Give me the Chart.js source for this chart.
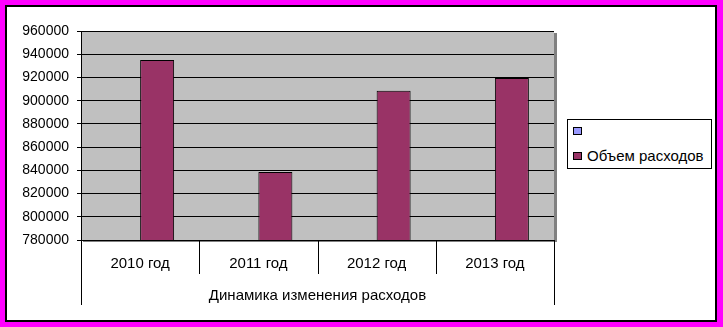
<!DOCTYPE html>
<html>
<head>
<meta charset="utf-8">
<script src="https://cdn.jsdelivr.net/npm/chart.js@4"></script>
<style>
  html, body { margin: 0; padding: 0; background: #fff; }
  #wrap { position: relative; width: 723px; height: 327px; overflow: hidden; }
  #c { position: absolute; left: 0; top: 0; }
  #legend { position: absolute; left: 567px; top: 119px; width: 145px; height: 50px;
    border: 1px solid #000; background: #fff; font-family: 'Liberation Sans', Arial, sans-serif;
    font-size: 15px; color: #000; box-sizing: border-box; }
  .item { position: absolute; left: 5px; height: 16px; line-height: 16px; }
  .sw { position: absolute; left: 0; top: 4px; width: 7px; height: 6px; border: 1px solid #000; }
  .lbl { position: absolute; left: 14px; top: 0; white-space: nowrap; }
</style>
</head>
<body>
<div id="wrap">
  <canvas id="c" width="723" height="327"></canvas>
  <div id="legend"></div>
</div>
<script>
// ---- data ----
const categories = ['2010 год', '2011 год', '2012 год', '2013 год'];
const emptySeriesLabel = ' ';
const emptySeries = [null, null, null, null];
const expensesLabel = 'Объем расходов';
const expenses = [935000, 838500, 908500, 919500];
const axisGroupTitle = 'Динамика изменения расходов';
const yMin = 780000;
const yMax = 960000;
const yStep = 20000;

const FONT = "'Liberation Sans', Arial, sans-serif";
const seriesColors = ['#9999FF', '#993366'];

// legend (HTML)
const legendEl = document.getElementById('legend');
[[emptySeriesLabel, seriesColors[0], 3], [expensesLabel, seriesColors[1], 28]].forEach(([t, col, top]) => {
  const d = document.createElement('div');
  d.className = 'item';
  d.style.top = top + 'px';
  d.innerHTML = '<span class="sw" style="background:' + col + '"></span><span class="lbl"></span>';
  d.querySelector('.lbl').textContent = t;
  legendEl.appendChild(d);
});

const framePlugin = {
  id: 'frame',
  beforeDraw(chart) {
    const ctx = chart.ctx;
    const W = chart.width, H = chart.height;
    const a = chart.chartArea;
    ctx.save();
    ctx.fillStyle = '#FF00FF';
    ctx.fillRect(0, 0, W, H);
    ctx.fillStyle = '#000';
    ctx.fillRect(5, 5, 712, 317);
    ctx.fillStyle = '#fff';
    ctx.fillRect(7, 7, 708, 313);
    // plot shadow
    ctx.fillStyle = '#808080';
    ctx.fillRect(a.left + 2, a.top + 2, a.right - a.left + 1, a.bottom - a.top);
    // plot background
    ctx.fillStyle = '#C0C0C0';
    ctx.fillRect(a.left, a.top, a.right - a.left, a.bottom - a.top);
    ctx.restore();
  },
  afterDraw(chart) {
    const ctx = chart.ctx;
    const a = chart.chartArea;
    const n = categories.length;
    const w = (a.right - a.left) / n;
    ctx.save();
    ctx.strokeStyle = '#000';
    ctx.lineWidth = 1;
    ctx.beginPath();
    for (let i = 0; i <= n; i++) {
      const x = Math.round(a.left + i * w) + 0.5;
      const yEnd = (i === 0 || i === n) ? 305 : 274;
      ctx.moveTo(x, a.bottom);
      ctx.lineTo(x, yEnd);
    }
    ctx.stroke();
    ctx.restore();
  }
};

new Chart(document.getElementById('c'), {
  type: 'bar',
  data: {
    labels: categories,
    datasets: [
      { label: emptySeriesLabel, data: emptySeries, backgroundColor: seriesColors[0],
        borderColor: '#000', borderWidth: 1, categoryPercentage: 0.575, barPercentage: 1 },
      { label: expensesLabel, data: expenses, backgroundColor: seriesColors[1],
        borderColor: '#000', borderWidth: 1, categoryPercentage: 0.575, barPercentage: 1 }
    ]
  },
  options: {
    responsive: false,
    animation: false,
    devicePixelRatio: 1,
    layout: { padding: { left: 0, right: 169, top: 31, bottom: 0 } },
    plugins: { legend: { display: false }, tooltip: { enabled: false } },
    scales: {
      x: {
        grid: { display: false, drawTicks: false },
        border: { display: true, color: '#000', width: 1 },
        ticks: { color: '#000', font: { family: FONT, size: 15 }, padding: 15, maxRotation: 0 },
        title: { display: true, text: axisGroupTitle, color: '#000',
                 font: { family: FONT, size: 15 }, padding: { top: 0, bottom: 22 } },
        afterFit(scale) { scale.height = 87; }
      },
      y: {
        min: yMin, max: yMax,
        grid: { color: '#000', lineWidth: 1, tickLength: 4, drawTicks: true },
        border: { display: true, color: '#000', width: 1 },
        ticks: { stepSize: yStep, color: '#000', font: { family: FONT, size: 14 }, padding: 8,
                 callback: v => String(v) },
        afterFit(scale) { scale.width = 81; }
      }
    }
  },
  plugins: [framePlugin]
});
</script>
</body>
</html>
